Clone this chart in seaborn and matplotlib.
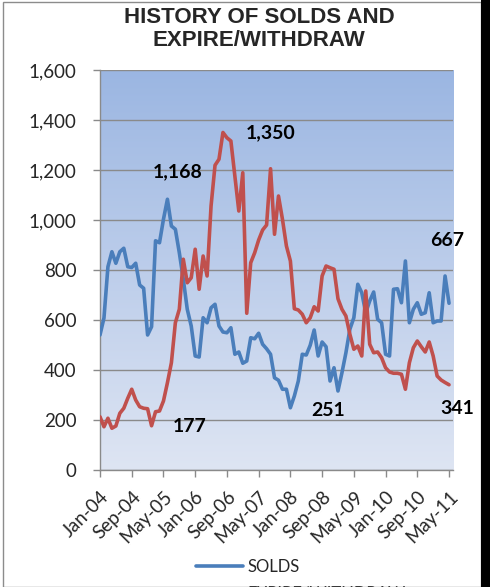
import numpy as np
import pandas as pd
import matplotlib
matplotlib.use("Agg")
import matplotlib.pyplot as plt
import seaborn as sns
from matplotlib.patches import Rectangle

# ---------------- data ----------------
tick_labels = ["Jan-04", "Sep-04", "May-05", "Jan-06", "Sep-06", "May-07",
               "Jan-08", "Sep-08", "May-09", "Jan-10", "Sep-10", "May-11"]

solds = [540, 608, 813, 873, 827, 873, 887, 813, 810, 827, 740, 727,
         540, 573, 917, 909, 1003, 1083, 976, 963, 869, 763, 643, 576,
         456, 452, 609, 589, 649, 663, 576, 552, 549, 569, 463, 472,
         427, 436, 529, 525, 547, 503, 485, 463, 369, 359, 323, 323,
         249, 296, 356, 463, 460, 499, 560, 456, 512, 493, 356, 409,
         316, 389, 469, 563, 609, 743, 709, 629, 676, 712, 603, 589,
         463, 456, 723, 725, 669, 836, 589, 643, 669, 623, 629, 709,
         589, 596, 596, 776, 667]

expire = [213, 173, 207, 167, 176, 227, 247, 287, 323, 280, 253, 247,
          245, 177, 233, 236, 276, 349, 429, 589, 643, 843, 749, 769,
          883, 723, 856, 776, 1056, 1219, 1243, 1350, 1329, 1316, 1176, 1036,
          1189, 627, 829, 869, 920, 960, 980, 1205, 943, 1096, 1003, 896,
          836, 645, 640, 623, 589, 609, 653, 636, 776, 816, 809, 803,
          685, 643, 616, 543, 483, 496, 456, 716, 503, 469, 472, 449,
          409, 392, 387, 387, 383, 323, 429, 489, 516, 493, 472, 512,
          456, 376, 360, 350, 341]

series_names = ["SOLDS", "EXPIRE/WITHDRAW"]
annot_text = ["1,168", "1,350", "667", "177", "251", "341"]
annot_x = [19.6, 42.9, 87.6, 22.5, 57.6, 90.2]
annot_y = [1192, 1350, 916, 172, 240, 248]

months = np.arange(len(solds))
df = pd.DataFrame({
    "month": np.concatenate([months, months]),
    "value": solds + expire,
    "series": [series_names[0]] * len(solds) + [series_names[1]] * len(expire),
})

# ---------------- style ----------------
sns.set_theme(style="white")
plt.rcParams["font.family"] = ["Lato", "DejaVu Sans"]

W, H = 490, 587
fig = plt.figure(figsize=(W / 100, H / 100), dpi=100)
fig.patch.set_facecolor("white")

# outer borders
fig.patches.append(Rectangle((2.5 / W, 0), (481 - 2.5) / W, 1 - 2.0 / H,
                             transform=fig.transFigure, fill=False,
                             edgecolor="#8c8c8c", linewidth=1.0))
fig.patches.append(Rectangle((481 / W, 0), 9 / W, 1,
                             transform=fig.transFigure, facecolor="black",
                             edgecolor="none"))

ax = fig.add_axes([100 / W, 1 - 470 / H, (453 - 100) / W, (470 - 70) / H])

# gradient background (darker blue at top, pale at bottom)
grad = np.linspace(0, 1, 256).reshape(-1, 1)
top = np.array([155, 182, 226]) / 255
bot = np.array([222, 229, 243]) / 255
img = top[None, None, :] * (1 - grad[:, :, None]) + bot[None, None, :] * grad[:, :, None]
ax.imshow(img, extent=[0, 89, 0, 1600], origin="upper", aspect="auto", zorder=0)
ax.set_ylim(0, 1600)
ax.set_xlim(0, 89)

ax.yaxis.grid(True, color="#8a8a8a", linewidth=1.0, zorder=1)
ax.set_axisbelow(False)

sns.lineplot(data=df, x="month", y="value", hue="series",
             palette=["#4A7EBB", "#C0504D"], linewidth=2.6, ax=ax,
             zorder=3, legend=True)

ax.set_xlabel("")
ax.set_ylabel("")
ax.set_yticks(range(0, 1601, 200))
ax.set_yticklabels([f"{v:,}" for v in range(0, 1601, 200)], fontsize=13.5)
ax.set_xticks(range(0, 89, 8))
ax.set_xticklabels(tick_labels, rotation=45, ha="right",
                   rotation_mode="anchor", fontsize=13.5)
ax.tick_params(axis="y", length=5, color="#8a8a8a", width=1, pad=12, left=True)
ax.tick_params(axis="x", length=5, color="#8a8a8a", width=1, pad=8, bottom=True)

for s in ["top", "right"]:
    ax.spines[s].set_visible(False)
for s in ["left", "bottom"]:
    ax.spines[s].set_color("#8a8a8a")
    ax.spines[s].set_linewidth(1.0)

for t, x, y in zip(annot_text, annot_x, annot_y):
    ax.text(x, y, t, ha="center", va="center", fontsize=14,
            fontweight="bold", color="black", zorder=5, clip_on=False)

# title
fig.text(259 / W, 1 - 7 / H, "HISTORY OF SOLDS AND\nEXPIRE/WITHDRAW",
         ha="center", va="top", fontsize=16, fontweight="bold",
         family=["Liberation Sans", "DejaVu Sans"], linespacing=1.15)

# legend
handles, labels = ax.get_legend_handles_labels()
ax.legend(handles, labels, loc="upper left",
          bbox_to_anchor=(196 / W, 1 - 559 / H), bbox_transform=fig.transFigure,
          frameon=False, fontsize=12, handlelength=2.8, handletextpad=0.3,
          labelspacing=0.62, borderpad=0, borderaxespad=0)

fig.savefig("out.png", dpi=100)
